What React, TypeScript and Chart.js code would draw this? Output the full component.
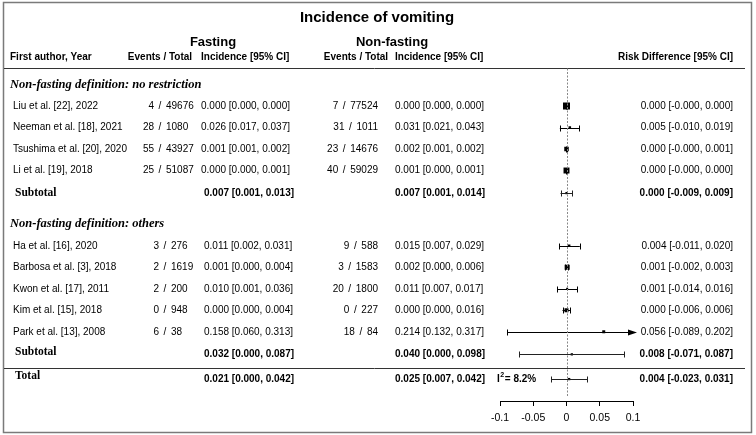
import React, { useEffect, useRef } from "react";
import { Chart, registerables } from "chart.js";
Chart.register(...registerables);

// ---------- data ----------
const title = "Incidence of vomiting";
const groupTitles = ["Non-fasting definition: no restriction", "Non-fasting definition: others"];
const studies = [
  "Liu et al. [22], 2022",
  "Neeman et al. [18], 2021",
  "Tsushima et al. [20], 2020",
  "Li et al. [19], 2018",
  "Ha et al. [16], 2020",
  "Barbosa et al. [3], 2018",
  "Kwon et al. [17], 2011",
  "Kim et al. [15], 2018",
  "Park et al. [13], 2008",
];
const studyGroup = [0, 0, 0, 0, 1, 1, 1, 1, 1];
const fastEvents = [4, 28, 55, 25, 3, 2, 2, 0, 6];
const fastTotals = [49676, 1080, 43927, 51087, 276, 1619, 200, 948, 38];
const fastInc = [0.0, 0.026, 0.001, 0.0, 0.011, 0.001, 0.01, 0.0, 0.158];
const fastLo = [0.0, 0.017, 0.001, 0.0, 0.002, 0.0, 0.001, 0.0, 0.06];
const fastHi = [0.0, 0.037, 0.002, 0.001, 0.031, 0.004, 0.036, 0.004, 0.313];
const nonEvents = [7, 31, 23, 40, 9, 3, 20, 0, 18];
const nonTotals = [77524, 1011, 14676, 59029, 588, 1583, 1800, 227, 84];
const nonInc = [0.0, 0.031, 0.002, 0.001, 0.015, 0.002, 0.011, 0.0, 0.214];
const nonLo = [0.0, 0.021, 0.001, 0.0, 0.007, 0.0, 0.007, 0.0, 0.132];
const nonHi = [0.0, 0.043, 0.002, 0.001, 0.029, 0.006, 0.017, 0.016, 0.317];
const rd = [0.0, 0.005, 0.0, 0.0, 0.004, 0.001, 0.001, 0.0, 0.056];
const rdLo = [-0.0002, -0.01, -0.0003, -0.0002, -0.011, -0.002, -0.014, -0.006, -0.089];
const rdHi = [0.0002, 0.019, 0.001, 0.0003, 0.02, 0.003, 0.016, 0.006, 0.202];
const weightPct = [29, 3.7, 12, 21, 3.7, 15, 2.4, 9.5, 5.3];

const summaryLabels = ["Subtotal", "Subtotal", "Total"];
const sumFastInc = [0.007, 0.032, 0.021];
const sumFastLo = [0.001, 0.0, 0.0];
const sumFastHi = [0.013, 0.087, 0.042];
const sumNonInc = [0.007, 0.04, 0.025];
const sumNonLo = [0.001, 0.0, 0.007];
const sumNonHi = [0.014, 0.098, 0.042];
const sumRd = [0.0, 0.008, 0.004];
const sumRdLo = [-0.009, -0.071, -0.023];
const sumRdHi = [0.009, 0.087, 0.031];
const i2Total = 8.2;

const xTicks = [-0.1, -0.05, 0, 0.05, 0.1];

// ---------- helpers ----------
const f3 = (v: number) => v.toFixed(3);
const ci = (m: number, lo: number, hi: number) => `${f3(m)} [${f3(lo)}, ${f3(hi)}]`;
const SANS = '"Liberation Sans", Arial, sans-serif';
const SERIF = '"Liberation Serif", "Times New Roman", serif';

type Row = { kind: string; y: number; i: number };

function buildRows(): Row[] {
  const rows: Row[] = [];
  let r = 0;
  for (let g = 0; g < groupTitles.length; g++) {
    rows.push({ kind: "group", y: r, i: g });
    r += 1;
    studies.forEach((_, i) => {
      if (studyGroup[i] === g) {
        rows.push({ kind: "study", y: r, i });
        r += 1;
      }
    });
    rows.push({ kind: "sub", y: r + 0.05, i: g });
    r += 1.5;
  }
  const lastSub = rows[rows.length - 1].y;
  rows.push({ kind: "total", y: lastSub + 1.15, i: 2 });
  return rows;
}

const App = () => {
  const ref = useRef<HTMLCanvasElement>(null);
  useEffect(() => {
    const canvas = ref.current!;
    const rows = buildRows();
    const studyPts = rows
      .filter((r) => r.kind === "study")
      .map((r) => ({ x: rd[r.i], y: r.y, lo: rdLo[r.i], hi: rdHi[r.i] }));
    const studySides = rows
      .filter((r) => r.kind === "study")
      .map((r) => 1.3 * Math.sqrt(weightPct[r.i]));
    const sumPts = rows
      .filter((r) => r.kind === "sub" || r.kind === "total")
      .map((r) => ({ x: sumRd[r.i], y: r.y, lo: sumRdLo[r.i], hi: sumRdHi[r.i] }));

    const totalRow = rows[rows.length - 1];
    const firstGroupY = rows[0].y;

    const tablePlugin = {
      id: "table",
      beforeDraw(chart: any) {
        const ctx = chart.ctx;
        ctx.save();
        ctx.fillStyle = "#fff";
        ctx.fillRect(0, 0, chart.width, chart.height);
        ctx.restore();
      },
      afterDatasetsDraw(chart: any) {
        const ctx = chart.ctx;
        const xs = chart.scales.x;
        const ys = chart.scales.y;
        ctx.save();
        chart.data.datasets.forEach((ds: any, di: number) => {
          ds.data.forEach((p: any) => {
            const y = Math.round(ys.getPixelForValue(p.y)) + 0.5;
            const x1 = xs.getPixelForValue(Math.max(p.lo, xs.min));
            const over = p.hi > xs.max;
            const x2 = xs.getPixelForValue(Math.min(p.hi, xs.max));
            ctx.strokeStyle = di === 0 ? "#000" : "#222";
            ctx.lineWidth = 1;
            ctx.beginPath();
            ctx.moveTo(x1, y);
            ctx.lineTo(over ? x2 - 4 : x2, y);
            ctx.moveTo(Math.round(x1) + 0.5, y - 3);
            ctx.lineTo(Math.round(x1) + 0.5, y + 3);
            if (!over) {
              ctx.moveTo(Math.round(x2) + 0.5, y - 3);
              ctx.lineTo(Math.round(x2) + 0.5, y + 3);
            }
            ctx.stroke();
            if (over) {
              ctx.fillStyle = "#000";
              ctx.beginPath();
              ctx.moveTo(x2 - 5, y - 3);
              ctx.lineTo(x2 + 4, y);
              ctx.lineTo(x2 - 5, y + 3);
              ctx.closePath();
              ctx.fill();
            }
          });
        });
        ctx.restore();
      },
      afterDraw(chart: any) {
        const ctx = chart.ctx;
        const xs = chart.scales.x;
        const ys = chart.scales.y;
        const area = chart.chartArea;
        const Y = (v: number) => ys.getPixelForValue(v);
        ctx.save();
        // frame
        ctx.strokeStyle = "#7a7a7a";
        ctx.lineWidth = 1.5;
        ctx.strokeRect(3.5, 2.5, 748, 430);
        // horizontal rules
        ctx.strokeStyle = "#333";
        ctx.lineWidth = 1;
        const hr1 = Math.round(Y(firstGroupY - 0.77)) + 0.5;
        const hr2 = Math.round(Y(totalRow.y - 0.5)) + 0.5;
        ctx.beginPath();
        ctx.moveTo(4, hr1);
        ctx.lineTo(745, hr1);
        ctx.moveTo(4, hr2);
        ctx.lineTo(745, hr2);
        ctx.stroke();
        // zero reference line
        const x0 = Math.round(xs.getPixelForValue(0)) + 0.5;
        ctx.strokeStyle = "#888";
        ctx.setLineDash([2, 1.5]);
        ctx.beginPath();
        ctx.moveTo(x0, hr1);
        ctx.lineTo(x0, area.bottom - 4);
        ctx.stroke();
        ctx.setLineDash([]);

        ctx.fillStyle = "#000";
        ctx.textBaseline = "middle";
        const text = (s: string, x: number, y: number, font: string, align: CanvasTextAlign = "left") => {
          ctx.font = font;
          ctx.textAlign = align;
          ctx.fillText(s, x, y);
        };
        const GAP = 6;
        // events "e / n" anchored on the slash
        const eventsAtSlash = (e: number, n: number, sx: number, y: number, font: string) => {
          ctx.font = font;
          ctx.textAlign = "right";
          ctx.fillText(String(e), sx - GAP, y);
          ctx.textAlign = "center";
          ctx.fillText("/", sx, y);
          ctx.textAlign = "left";
          ctx.fillText(String(n), sx + GAP, y);
        };
        const eventsRight = (e: number, n: number, rx: number, y: number, font: string) => {
          ctx.font = font;
          const wn = ctx.measureText(String(n)).width;
          eventsAtSlash(e, n, rx - wn - GAP, y, font);
        };
        // title + headers
        text(title, 377, Y(firstGroupY - 3.1), `bold 15px ${SANS}`, "center");
        text("Fasting", 213, Y(firstGroupY - 1.98), `bold 13px ${SANS}`, "center");
        text("Non-fasting", 392, Y(firstGroupY - 1.98), `bold 13px ${SANS}`, "center");
        const hy = Y(firstGroupY - 1.25);
        const hf = `bold 10px ${SANS}`;
        text("First author, Year", 10, hy, hf);
        text("Events / Total", 160, hy, hf, "center");
        text("Incidence [95% CI]", 201, hy, hf);
        text("Events / Total", 356, hy, hf, "center");
        text("Incidence [95% CI]", 395, hy, hf);
        text("Risk Difference [95% CI]", 733, hy, hf, "right");

        const body = `10px ${SANS}`;
        const bold = `bold 10px ${SANS}`;
        rows.forEach((r) => {
          const y = Y(r.y);
          if (r.kind === "group") {
            text(groupTitles[r.i], 10, y, `italic bold 12.5px ${SERIF}`);
          } else if (r.kind === "study") {
            const i = r.i;
            const g0 = studyGroup[i] === 0;
            text(studies[i], 13, y, body);
            eventsAtSlash(fastEvents[i], fastTotals[i], g0 ? 160 : 165, y, body);
            text(ci(fastInc[i], fastLo[i], fastHi[i]), g0 ? 201 : 204, y, body);
            eventsRight(nonEvents[i], nonTotals[i], 378, y, body);
            text(ci(nonInc[i], nonLo[i], nonHi[i]), 395, y, body);
            text(ci(rd[i], rdLo[i], rdHi[i]), 733, y, body, "right");
          } else {
            const i = r.i;
            const ly = r.kind === "total" ? y - 3 : r.i === 0 ? y : y - 2;
            text(summaryLabels[i], 15, ly, `bold 11.5px ${SERIF}`);
            text(ci(sumFastInc[i], sumFastLo[i], sumFastHi[i]), 204, y, bold);
            text(ci(sumNonInc[i], sumNonLo[i], sumNonHi[i]), 395, y, bold);
            text(ci(sumRd[i], sumRdLo[i], sumRdHi[i]), 733, y, bold, "right");
            if (r.kind === "total") {
              ctx.font = bold;
              ctx.textAlign = "left";
              ctx.fillText("I", 497, y);
              const w = ctx.measureText("I").width;
              ctx.font = `bold 7px ${SANS}`;
              ctx.fillText("2", 497 + w + 0.5, y - 4);
              ctx.font = bold;
              ctx.fillText(`= ${i2Total}%`, 497 + w + 5, y);
            }
          }
        });
        ctx.restore();
      },
    };

    const chart = new Chart(canvas, {
      type: "scatter",
      data: {
        datasets: [
          {
            data: studyPts,
            pointStyle: "rect",
            pointRadius: studySides.map((s) => s / Math.SQRT2),
            backgroundColor: "#000",
            borderColor: "#000",
            borderWidth: 0,
          },
          {
            data: sumPts,
            pointStyle: "rect",
            pointRadius: 1.6,
            backgroundColor: "#000",
            borderColor: "#000",
            borderWidth: 0,
          },
        ],
      },
      options: {
        animation: false,
        responsive: false,
        devicePixelRatio: 1,
        events: [],
        layout: { padding: { left: 500, right: 123, top: 20, bottom: 0 } },
        plugins: { legend: { display: false }, tooltip: { enabled: false }, title: { display: false } },
        scales: {
          x: {
            type: "linear",
            min: -0.1,
            max: 0.1,
            afterFit: (s: any) => {
              s.height = 34;
            },
            afterBuildTicks: (s: any) => {
              s.ticks = xTicks.map((v) => ({ value: v }));
            },
            ticks: {
              color: "#000",
              font: { family: SANS, size: 10.5 },
              padding: 6,
              maxRotation: 0,
              autoSkip: false,
              callback: (v: any) => String(Math.round(Number(v) * 1000) / 1000),
            },
            grid: { drawOnChartArea: false, drawTicks: true, tickLength: 5, color: "#000" },
            border: { display: true, color: "#000", width: 1 },
          },
          y: {
            type: "linear",
            display: false,
            reverse: true,
            min: -3,
            max: 14.72,
          },
        },
      },
      plugins: [tablePlugin],
    });
    return () => chart.destroy();
  }, []);
  return (
    <div style={{ position: "fixed", left: 0, top: 0, width: 756, height: 435, background: "#fff" }}>
      <canvas ref={ref} width={756} height={435} style={{ display: "block", width: 756, height: 435 }} />
    </div>
  );
};

export default App;
